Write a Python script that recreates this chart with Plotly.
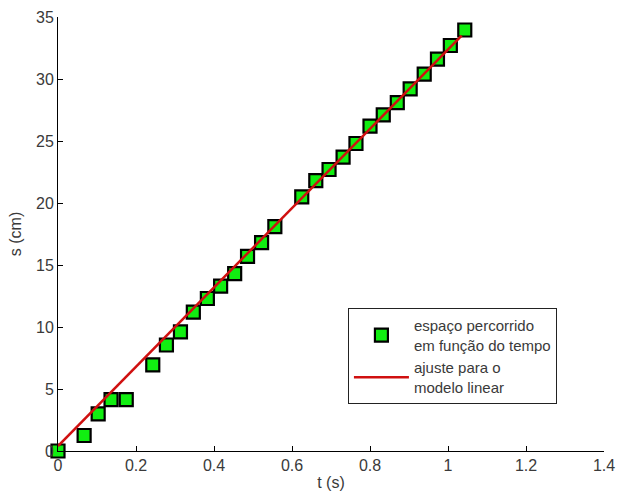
import plotly.graph_objects as go

# data
t_data = [0.0, 0.067, 0.103, 0.136, 0.175, 0.243, 0.278, 0.314, 0.347, 0.383,
          0.417, 0.453, 0.486, 0.522, 0.556, 0.625, 0.661, 0.695, 0.731, 0.764,
          0.800, 0.834, 0.870, 0.903, 0.939, 0.973, 1.006, 1.043]
s_data = [0.0, 1.25, 3.0, 4.15, 4.15, 6.95, 8.55, 9.6, 11.2, 12.3,
          13.3, 14.3, 15.7, 16.8, 18.1, 20.5, 21.8, 22.7, 23.7, 24.8,
          26.2, 27.1, 28.1, 29.2, 30.4, 31.6, 32.7, 33.95]
fit_t = [0.0, 1.035]
fit_s = [0.4, 33.5]

x_ticks = [0, 0.2, 0.4, 0.6, 0.8, 1.0, 1.2, 1.4]
x_labels = ["0", "0.2", "0.4", "0.6", "0.8", "1", "1.2", "1.4"]
y_ticks = [0, 5, 10, 15, 20, 25, 30, 35]
y_labels = ["0", "5", "10", "15", "20", "25", "30", "35"]

FAM = "Liberation Sans, Arial, sans-serif"
TXT = "#3a3a3a"

fig = go.Figure()
fig.add_trace(go.Scatter(
    x=t_data, y=s_data, mode="markers",
    name="espaço percorrido<br>em função do tempo",
    marker=dict(symbol="square", size=13, color="#11ee11",
                line=dict(color="black", width=2.2)),
    cliponaxis=False,
))
fig.add_trace(go.Scatter(
    x=fit_t, y=fit_s, mode="lines",
    name="ajuste para o<br>modelo linear",
    line=dict(color="#d01010", width=2.5),
    cliponaxis=False,
))

fig.update_layout(
    width=618, height=496,
    margin=dict(l=58, r=14, t=17, b=45),
    paper_bgcolor="white", plot_bgcolor="white",
    font=dict(family=FAM, size=16, color=TXT),
    showlegend=True,
    legend=dict(x=0.531, y=0.329, xanchor="left", yanchor="top",
                bordercolor="#222222", borderwidth=1, bgcolor="white",
                itemwidth=55, tracegroupgap=0,
                font=dict(family=FAM, size=15, color=TXT)),
)
fig.update_xaxes(
    range=[0, 1.4], tickvals=x_ticks, ticktext=x_labels,
    tickfont=dict(family=FAM, size=16, color=TXT),
    ticks="inside", ticklen=5, tickcolor="black",
    showline=True, linecolor="black", linewidth=1,
    showgrid=False, zeroline=False, mirror=False, automargin=False,
    title=dict(text="t (s)", standoff=3, font=dict(family=FAM, size=16, color=TXT)),
)
fig.update_yaxes(
    range=[0, 35], tickvals=y_ticks, ticktext=y_labels,
    tickfont=dict(family=FAM, size=16, color=TXT),
    ticks="inside", ticklen=5, tickcolor="black",
    showline=True, linecolor="black", linewidth=1,
    showgrid=False, zeroline=False, mirror=False, automargin=False,
    title=dict(text="s (cm)", standoff=10, font=dict(family=FAM, size=16, color=TXT)),
)

fig.write_html("out.html")
